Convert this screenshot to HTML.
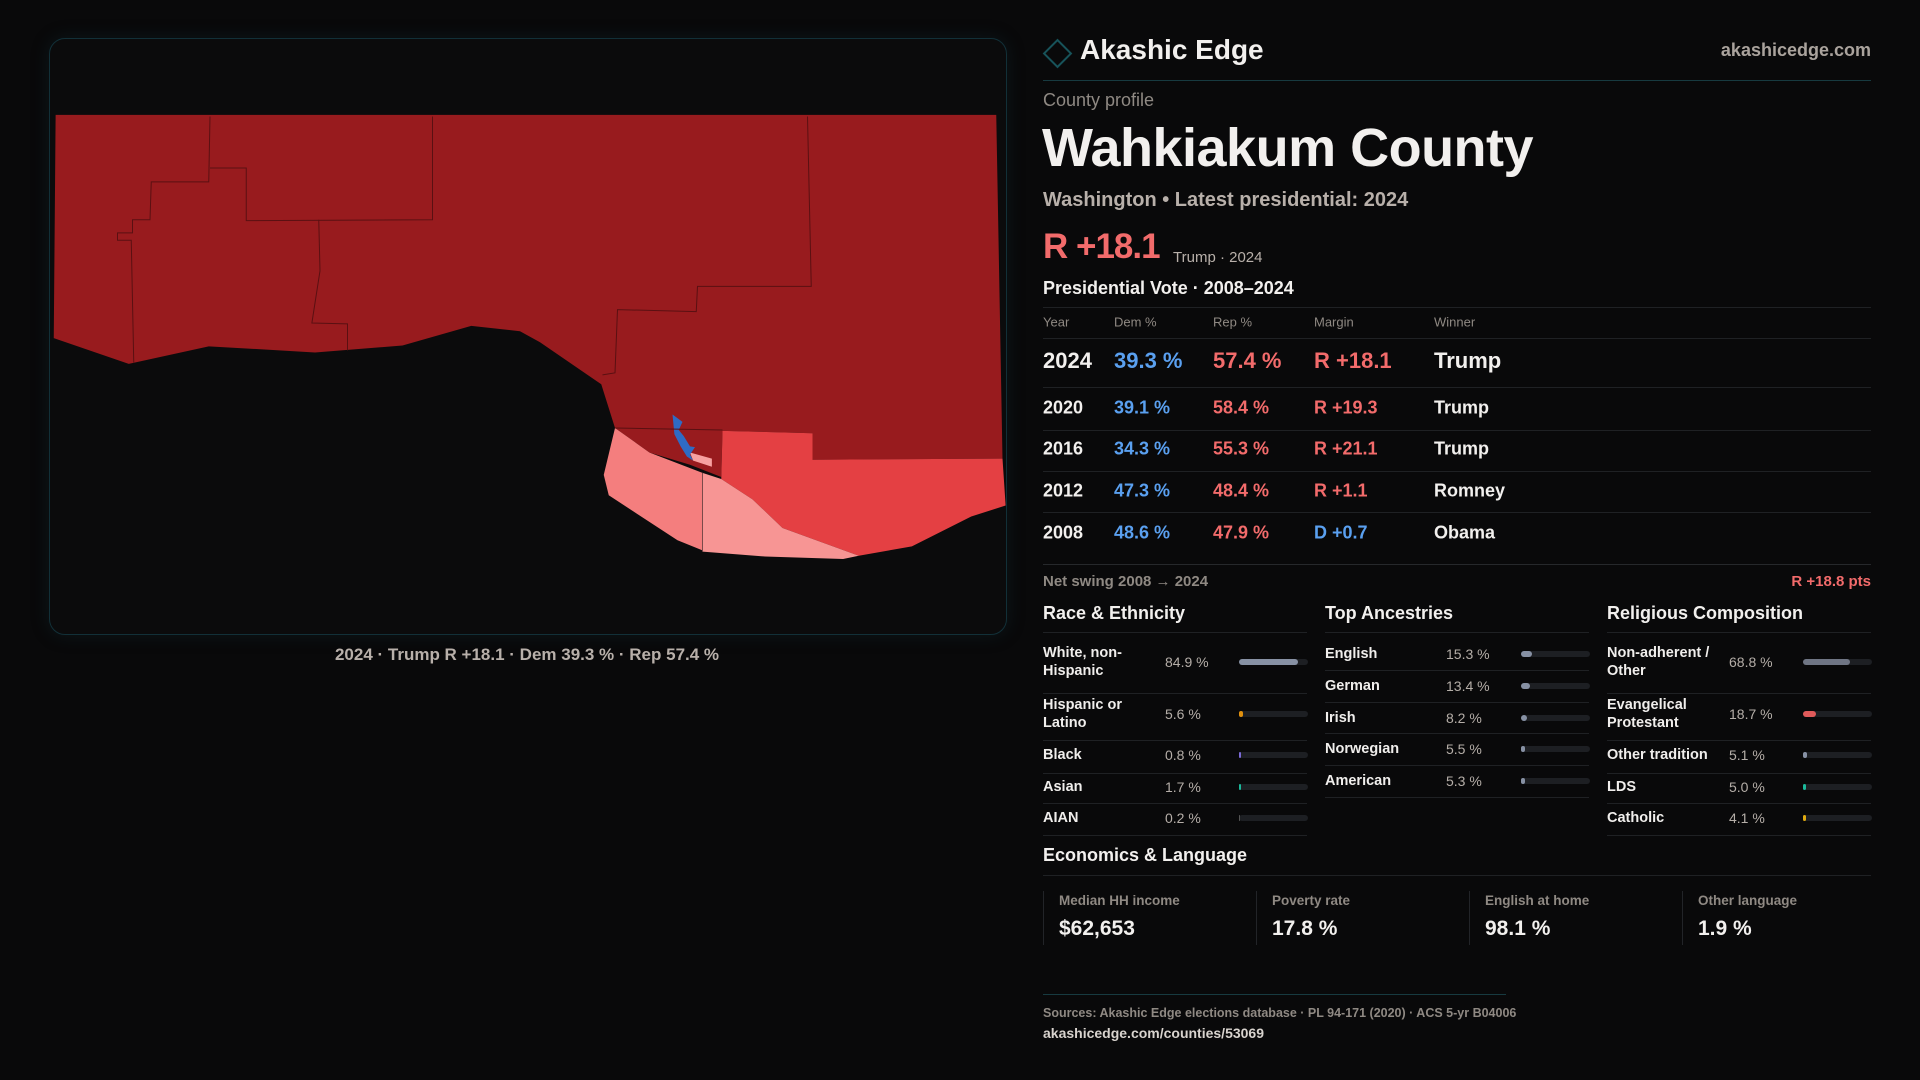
<!DOCTYPE html>
<html><head><meta charset="utf-8"><style>
*{box-sizing:border-box;margin:0;padding:0}
body{width:1920px;height:1080px;background:#09090a;font-family:"Liberation Sans",sans-serif;color:#f2f0ee;position:relative;overflow:hidden}
.abs{position:absolute;white-space:nowrap}
.card{position:absolute;left:49px;top:38px;width:958px;height:597px;border:1px solid #123038;border-radius:16px;background:#0b0b0c;box-shadow:0 0 18px rgba(20,60,70,.25)}
.hl{position:absolute;height:1px;background:#1f2124}
.grey{color:#8f8983}
.row{position:absolute;left:1043px;width:828px;font-size:18px;font-weight:bold}
.row span{position:absolute;transform:translateY(-50%)}
.dem{color:#5aa0f0}.rep{color:#f26b6b}
.lbl{font-size:14.5px;font-weight:bold;color:#f0eeec;line-height:18px}
.val{font-size:14px;color:#b5aea8}
.track{position:absolute;height:6px;border-radius:3px;background:#1d1f23;width:69px}
.fill{position:absolute;left:0;top:0;height:6px;border-radius:3px}
</style></head><body>
<div class="card"></div>
<svg class="abs" style="left:40px;top:30px" width="980" height="640" viewBox="0 0 1568 1568" preserveAspectRatio="none">
<polygon fill="#981b1e" points="25,208 1530,208 1540,1050 1236,1053 1236,988 1092,982 1090,1095 1040,1065 975,1035 920,975 898,868 800,765 768,738 690,725 580,773 440,790 270,775 142,818 22,755"/>
<polygon fill="#e44043" points="1092,982 1236,988 1236,1053 1540,1050 1545,1165 1490,1192 1395,1265 1310,1288 1188,1220 1140,1150 1090,1100"/>
<polygon fill="#f47e7e" points="920,975 975,1035 1060,1085 1060,1275 1020,1250 910,1140 902,1090"/>
<polygon fill="#f79594" points="1060,1085 1090,1100 1140,1150 1188,1220 1310,1288 1285,1296 1160,1290 1060,1278"/>
<polygon fill="#f7a0a0" points="1040,1035 1075,1050 1075,1070 1045,1055"/>
<polygon fill="#2f6bc4" points="1012,942 1028,960 1022,980 1030,995 1040,1020 1048,1022 1040,1040 1045,1055 1035,1045 1025,1020 1015,990"/>
<g fill="none" stroke="#5a1012" stroke-width="1" vector-effect="non-scaling-stroke">
<polyline vector-effect="non-scaling-stroke" points="272,212 270,372 178,372 176,465 148,465 148,497 124,497 124,515 146,515 150,815"/>
<polyline vector-effect="non-scaling-stroke" points="272,338 330,338 330,467 628,465 628,212"/>
<polyline vector-effect="non-scaling-stroke" points="446,465 448,590 435,718 492,720 492,785"/>
<polyline vector-effect="non-scaling-stroke" points="1228,212 1234,628 1052,628 1050,690 924,685 920,840 900,845"/>
<polyline vector-effect="non-scaling-stroke" points="920,975 1092,980"/>
<polyline vector-effect="non-scaling-stroke" stroke="#7a4a4a" points="1060,1085 1060,1278"/>
</g>
</svg>
<div class="abs" style="left:0;width:1054px;top:645px;text-align:center;font-size:17px;font-weight:bold;color:#b8b0aa">2024 · Trump R +18.1 · Dem 39.3 % · Rep 57.4 %</div>

<div class="abs" style="left:1047px;top:43px;width:21px;height:21px;border:2px solid #17535a;transform:rotate(45deg)"></div>
<div class="abs" style="left:1080px;top:34px;font-size:28px;font-weight:bold">Akashic Edge</div>
<div class="abs" style="right:49px;top:40px;font-size:18px;font-weight:bold;color:#aaa39d">akashicedge.com</div>
<div class="hl" style="left:1043px;top:80px;width:828px;background:#173a40"></div>
<div class="abs grey" style="left:1043px;top:90px;font-size:18px">County profile</div>
<div class="abs" style="left:1042px;top:117px;font-size:54px;font-weight:bold;letter-spacing:-0.5px">Wahkiakum County</div>
<div class="abs" style="left:1043px;top:189px;font-size:20px;font-weight:bold;color:#b8b0aa">Washington • Latest presidential: 2024</div>
<div class="abs rep" style="left:1043px;top:227px;font-size:35px;font-weight:bold;letter-spacing:-1px">R +18.1</div>
<div class="abs" style="left:1173px;top:249px;font-size:15px;color:#b8b0aa">Trump · 2024</div>
<div class="abs" style="left:1043px;top:278px;font-size:18px;font-weight:bold">Presidential Vote · 2008–2024</div>
<div class="hl" style="left:1043px;top:307px;width:828px"></div>
<div class="row grey" style="top:322px;font-size:13px;font-weight:normal"><span style="left:0">Year</span><span style="left:71px">Dem %</span><span style="left:170px">Rep %</span><span style="left:271px">Margin</span><span style="left:391px">Winner</span></div>
<div class="hl" style="left:1043px;top:338px;width:828px"></div>
<div id="vote-rows"></div>
<div class="hl" style="left:1043px;top:564px;width:828px;background:#26282b"></div>
<div class="abs grey" style="left:1043px;top:573px;font-size:15px;font-weight:bold">Net swing 2008 → 2024</div>
<div class="abs rep" style="right:49px;top:573px;font-size:15px;font-weight:bold">R +18.8 pts</div>
<div id="sections"></div>
<div class="abs" style="left:1043px;top:845px;font-size:18px;font-weight:bold">Economics &amp; Language</div>
<div class="hl" style="left:1043px;top:875px;width:828px"></div>
<div id="econ"></div>
<div class="hl" style="left:1043px;top:994px;width:463px;background:#173a40"></div>
<div class="abs grey" style="left:1043px;top:1006px;font-size:12.5px;font-weight:bold">Sources: Akashic Edge elections database · PL 94-171 (2020) · ACS 5-yr B04006</div>
<div class="abs" style="left:1043px;top:1025px;font-size:14px;font-weight:bold;color:#d8d3ce">akashicedge.com/counties/53069</div>
<script>
const years=[2024,2020,2016,2012,2008];
const demPct=[39.3,39.1,34.3,47.3,48.6];
const repPct=[57.4,58.4,55.3,48.4,47.9];
const margins=[18.1,19.3,21.1,1.1,-0.7];
const winners=["Trump","Trump","Trump","Romney","Obama"];
const raceLabels=["White, non-Hispanic","Hispanic or Latino","Black","Asian","AIAN"];
const raceValues=[84.9,5.6,0.8,1.7,0.2];
const ancLabels=["English","German","Irish","Norwegian","American"];
const ancValues=[15.3,13.4,8.2,5.5,5.3];
const relLabels=["Non-adherent / Other","Evangelical Protestant","Other tradition","LDS","Catholic"];
const relValues=[68.8,18.7,5.1,5.0,4.1];
const econLabels=["Median HH income","Poverty rate","English at home","Other language"];
const econValues=["$62,653","17.8 %","98.1 %","1.9 %"];

const rowsEl=document.getElementById('vote-rows');
const rowY=[361,408,449,491,533], lineY=[387,430,471,512,555];
years.forEach((y,i)=>{
  const m=margins[i];
  const mt=(m>=0?'R +':'D +')+Math.abs(m).toFixed(1);
  const r=document.createElement('div');
  r.className='row';
  r.style.top=rowY[i]+'px';
  r.style.fontSize=(i===0?22:18)+'px';
  
  
  r.innerHTML=`<span style="left:0">${y}</span><span class="dem" style="left:71px">${demPct[i].toFixed(1)} %</span><span class="rep" style="left:170px">${repPct[i].toFixed(1)} %</span><span class="${m>=0?'rep':'dem'}" style="left:271px">${mt}</span><span style="left:391px">${winners[i]}</span>`;
  rowsEl.appendChild(r);
  if(i<4){const l=document.createElement('div');l.className='hl';l.style.cssText=`left:1043px;top:${lineY[i]}px;width:828px`;rowsEl.appendChild(l);}
});

const sec=document.getElementById('sections');
function section(x,title,labels,values,colors,ys,lines,name){
  const t=document.createElement('div');t.className='abs';t.style.cssText=`left:${x}px;top:603px;font-size:18px;font-weight:bold`;t.textContent=title;
  
  
  sec.appendChild(t);
  const l0=document.createElement('div');l0.className='hl';l0.style.cssText=`left:${x}px;top:632px;width:264px`;sec.appendChild(l0);
  labels.forEach((lb,i)=>{
    const a=document.createElement('div');a.className='abs lbl';a.style.cssText=`left:${x}px;top:${ys[i]}px;transform:translateY(-50%);white-space:normal;width:${name==='ancestries'?100:115}px`;a.textContent=lb;
    
    
    sec.appendChild(a);
    const v=document.createElement('div');v.className='abs val';v.style.cssText=`left:${x+(name==='ancestries'?121:122)}px;top:${ys[i]}px;transform:translateY(-50%)`;v.textContent=values[i].toFixed(1)+' %';
    
    
    sec.appendChild(v);
    const tr=document.createElement('div');tr.className='track';tr.style.left=(x+196)+'px';tr.style.top=(ys[i]-3)+'px';
    
    
    const f=document.createElement('div');f.className='fill';f.style.width=Math.max(values[i]/100*69,values[i]>=0.5?2:0)+'px';f.style.background=colors[i];
    
    
    tr.appendChild(f);sec.appendChild(tr);
    const ln=document.createElement('div');ln.className='hl';ln.style.cssText=`left:${x}px;top:${lines[i]}px;width:264px`;sec.appendChild(ln);
  });
}
const bigY=[662,714,755,787,818], bigL=[693,740,773,803,835];
section(1043,'Race & Ethnicity',raceLabels,raceValues,['#8791a4','#e0900e','#7b6ad6','#1bb89a','#555'],bigY,bigL,'race');
section(1325,'Top Ancestries',ancLabels,ancValues,['#8791a4','#8791a4','#8791a4','#8791a4','#8791a4'],[654,686,718,749,781],[670,702,733,765,797],'ancestries');
section(1607,'Religious Composition',relLabels,relValues,['#6f7584','#e05a5a','#8791a4','#1bb89a','#e0aa10'],bigY,bigL,'religion');

const ec=document.getElementById('econ');
econLabels.forEach((lb,i)=>{
  const x=1043+i*213;
  const c=document.createElement('div');c.className='abs';c.style.cssText=`left:${x}px;top:891px;width:213px;height:54px;border-left:1px solid #222428;padding-left:15px`;
  
  
  c.innerHTML=`<div class="grey" style="font-size:13.5px;font-weight:bold;margin-top:2px">${lb}</div><div style="font-size:21px;font-weight:bold;margin-top:9px">${econValues[i]}</div>`;
  ec.appendChild(c);
});
</script>
</body></html>
